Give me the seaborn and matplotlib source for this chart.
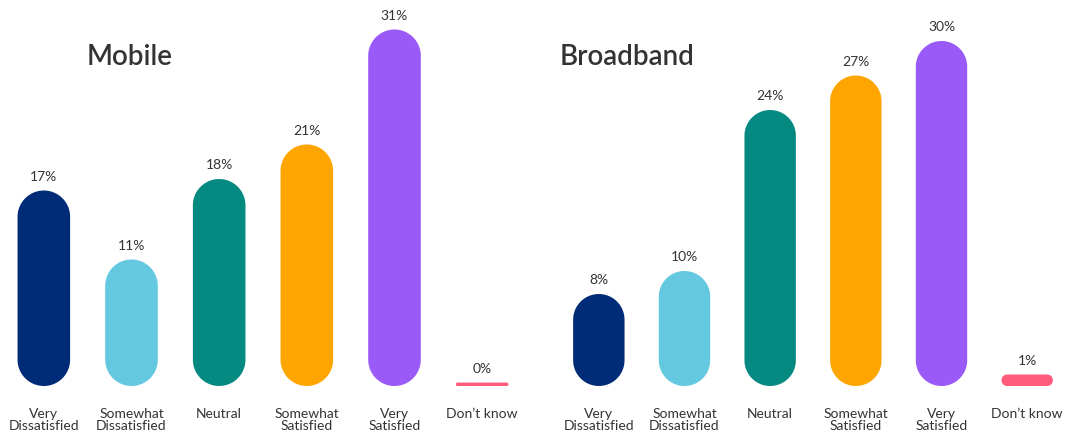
import matplotlib
matplotlib.use("Agg")
import matplotlib.pyplot as plt
from matplotlib.patches import Polygon
import numpy as np
import seaborn as sns
import pandas as pd

# Survey responses (percent of respondents)
categories = ["Very\nDissatisfied", "Somewhat\nDissatisfied", "Neutral",
              "Somewhat\nSatisfied", "Very\nSatisfied", "Don\u2019t know"]
mobile_pct = [17, 11, 18, 21, 31, 0]
broadband_pct = [8, 10, 24, 27, 30, 1]
panel_titles = ["Mobile", "Broadband"]
colors = ["#002C77", "#63C8E0", "#058A82", "#FFA500", "#9A5AF8", "#FF5B7B"]

sns.set_style("white")
plt.rcParams["font.family"] = ["Lato", "DejaVu Sans"]

TEXT = "#333333"
W, H = 1065, 440
fig = plt.figure(figsize=(W / 100, H / 100), dpi=100)

# axes placement in pixels: (left, width)
panels = [(0, 526), (556, 514)]
bottom_px, top_ylim = 54, 33.0
px_per_pct = 11.5
height_px = top_ylim * px_per_pct
title_x = [87, 560]
MIN_H = 0.3  # smallest drawn stub so a 0% answer stays visible


def pill_bars(ax):
    """Swap seaborn's rectangles for pill-shaped bars with semicircular ends."""
    x0, x1 = ax.get_xlim()
    y0, y1 = ax.get_ylim()
    px_x = ax.bbox.width / (x1 - x0)
    px_y = ax.bbox.height / (y1 - y0)
    for p in list(ax.patches):
        x, y, w, h = p.get_x(), p.get_y(), p.get_width(), p.get_height()
        h = max(h, MIN_H)
        r_px = min(w * px_x, h * px_y) / 2
        rx, ry = r_px / px_x, r_px / px_y
        cx_l, cx_r = x + rx, x + w - rx
        cy_b, cy_t = y + ry, y + h - ry
        t = np.linspace(0, np.pi / 2, 30)
        pts = np.concatenate([
            np.c_[cx_r + rx * np.cos(t), cy_t + ry * np.sin(t)],               # top right
            np.c_[cx_l - rx * np.sin(t), cy_t + ry * np.cos(t)],               # top left
            np.c_[cx_l - rx * np.cos(t), cy_b - ry * np.sin(t)],               # bottom left
            np.c_[cx_r + rx * np.sin(t), cy_b - ry * np.cos(t)],               # bottom right
        ])
        pill = Polygon(pts, closed=True, facecolor=p.get_facecolor(),
                       edgecolor="none", zorder=2)
        p.remove()
        ax.add_patch(pill)


for (left, width), values, title, tx in zip(panels, [mobile_pct, broadband_pct],
                                          panel_titles, title_x):
    ax = fig.add_axes([left / W, bottom_px / H, width / W, height_px / H])
    df = pd.DataFrame({"category": categories, "pct": values})
    sns.barplot(data=df, x="category", y="pct", hue="category",
                palette=colors, saturation=1, width=0.6, legend=False, ax=ax)
    ax.set_xlim(-0.5, len(categories) - 0.5)
    ax.set_ylim(0, top_ylim)
    pill_bars(ax)

    for i, v in enumerate(values):
        shown = max(v, MIN_H)
        ax.annotate(f"{v}%", (i, shown), xytext=(0, 5.5), textcoords="offset points",
                    ha="center", va="bottom", fontsize=10, color=TEXT)

    ax.set_xlabel("")
    ax.set_ylabel("")
    ax.set_yticks([])
    ax.tick_params(axis="x", length=0, pad=16, labelsize=10, labelcolor=TEXT)
    for lbl in ax.get_xticklabels():
        lbl.set_linespacing(1.0)
    sns.despine(ax=ax, left=True, bottom=True)
    ax.patch.set_alpha(0)

    fig.text(tx / W, 1 - 57 / H, title, fontsize=20, fontweight="semibold",
             color=TEXT, ha="left", va="center")

fig.savefig("out.png", dpi=100)
